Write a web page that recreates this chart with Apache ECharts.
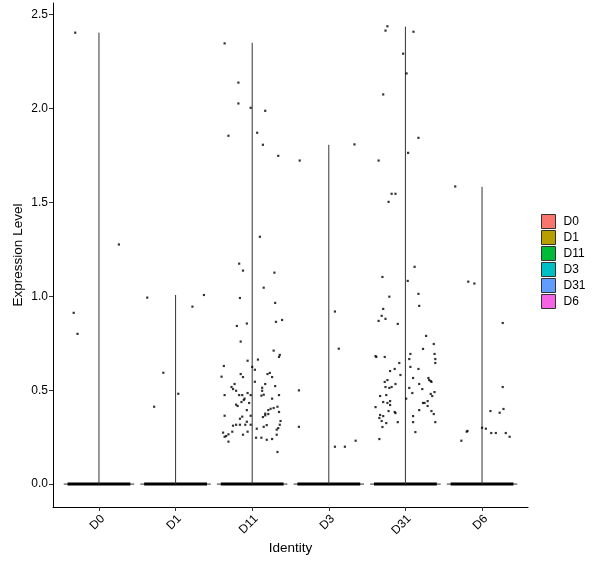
<!DOCTYPE html>
<html>
<head>
<meta charset="utf-8">
<script src="https://cdn.jsdelivr.net/npm/echarts@6/dist/echarts.min.js"></script>
<style>
  html, body { margin: 0; padding: 0; background: #fff; }
  #main { width: 600px; height: 568px; }
</style>
</head>
<body>
<div id="main"></div>
<script>
// groups and their colours
var categories = ['D0', 'D1', 'D11', 'D3', 'D31', 'D6'];
var colors = ['#F8766D', '#B79F00', '#00BA38', '#00BFC4', '#619CFF', '#F564E3'];
// top of each violin (max expression)
var violinMax = [2.404, 1.007, 2.35, 1.807, 2.436, 1.583];
var yTicks = [0, 0.5, 1.0, 1.5, 2.0, 2.5];

// jittered non-zero cells: [jitter offset, expression]
var ptsD0 = [[-0.31, 2.404], [0.26, 1.276], [-0.33, 0.912], [-0.28, 0.80]];
var ptsD1 = [[-0.37, 0.993], [0.37, 1.007], [0.22, 0.945], [-0.16, 0.593], [-0.28, 0.412], [0.035, 0.481]];
var ptsD11 = [
  [-0.36, 2.347], [-0.18, 2.138], [-0.18, 2.027], [-0.02, 2.004], [0.17, 1.988], [-0.31, 1.855],
  [0.065, 1.871], [0.14, 1.807], [0.34, 1.748], [0.10, 1.317], [-0.17, 1.174], [-0.12, 1.137],
  [0.29, 1.126], [0.15, 1.046], [-0.16, 0.991], [0.30, 0.965], [-0.20, 0.842], [-0.07, 0.855],
  [0.31, 0.864], [0.39, 0.874], [-0.15, 0.759], [0.28, 0.711], [0.36, 0.688], [0.35, 0.677],
  [-0.06, 0.657], [0.075, 0.663], [-0.37, 0.629], [0.0, 0.624], [0.035, 0.609], [-0.40, 0.572],
  [-0.15, 0.586], [-0.12, 0.570], [0.20, 0.586], [0.23, 0.592], [0.26, 0.570], [0.035, 0.545],
  [-0.23, 0.533], [-0.27, 0.517], [-0.25, 0.506], [0.17, 0.533], [0.30, 0.522], [-0.21, 0.497],
  [0.13, 0.513], [0.13, 0.497], [-0.36, 0.474], [-0.17, 0.474], [-0.13, 0.474], [-0.06, 0.485],
  [-0.02, 0.474], [0.12, 0.471], [0.15, 0.476], [0.35, 0.474], [0.26, 0.455], [-0.10, 0.455],
  [-0.11, 0.448], [-0.14, 0.437], [-0.04, 0.432], [-0.21, 0.423], [-0.19, 0.416], [-0.07, 0.394],
  [0.33, 0.412], [0.28, 0.405], [0.24, 0.401], [0.21, 0.394], [0.35, 0.384], [0.17, 0.375],
  [0.21, 0.373], [0.17, 0.366], [-0.36, 0.364], [-0.13, 0.359], [-0.02, 0.364], [0.14, 0.357],
  [-0.16, 0.348], [0.37, 0.336], [-0.07, 0.332], [-0.21, 0.316], [-0.16, 0.316], [-0.09, 0.316],
  [-0.02, 0.316], [-0.25, 0.311], [0.19, 0.314], [0.36, 0.316], [0.15, 0.305], [0.34, 0.298],
  [0.06, 0.295], [0.32, 0.290], [-0.26, 0.279], [-0.38, 0.274], [-0.06, 0.279], [-0.31, 0.265],
  [-0.12, 0.263], [0.32, 0.263], [-0.34, 0.256], [-0.36, 0.252], [0.05, 0.247], [0.12, 0.247],
  [0.19, 0.236], [0.26, 0.240], [-0.31, 0.226], [0.33, 0.171]
];
var ptsD3 = [[-0.38, 1.723], [0.335, 1.809], [0.08, 0.919], [0.13, 0.721], [0.08, 0.199], [0.21, 0.199],
  [0.35, 0.231], [-0.39, 0.499], [-0.39, 0.305]];
var ptsD31 = [
  [-0.235, 2.438], [-0.26, 2.415], [0.105, 2.409], [-0.03, 2.292], [0.015, 2.187], [-0.29, 2.075],
  [0.17, 1.844], [0.035, 1.764], [-0.35, 1.723], [-0.18, 1.546], [-0.13, 1.546], [-0.22, 1.503],
  [0.12, 1.157], [-0.30, 1.103], [0.03, 1.082], [0.17, 1.013], [-0.21, 0.998], [0.18, 0.949],
  [-0.29, 0.933], [-0.31, 0.896], [-0.26, 0.880], [-0.35, 0.869], [-0.10, 0.853], [0.27, 0.789],
  [0.37, 0.746], [0.23, 0.720], [0.065, 0.693], [0.38, 0.693], [-0.39, 0.682], [-0.38, 0.677],
  [-0.27, 0.677], [0.05, 0.666], [0.39, 0.666], [0.39, 0.645], [-0.08, 0.645], [0.065, 0.624],
  [-0.14, 0.613], [0.17, 0.613], [-0.20, 0.602], [-0.065, 0.581], [0.10, 0.565], [0.30, 0.565],
  [-0.235, 0.554], [0.31, 0.554], [0.33, 0.549], [-0.27, 0.544], [0.34, 0.544], [-0.13, 0.533],
  [0.18, 0.533], [-0.26, 0.517], [-0.18, 0.517], [-0.21, 0.512], [0.05, 0.512], [0.22, 0.506],
  [0.38, 0.490], [0.09, 0.485], [0.33, 0.480], [-0.33, 0.469], [-0.25, 0.474], [0.35, 0.469],
  [0.01, 0.455], [-0.29, 0.437], [-0.20, 0.442], [-0.235, 0.432], [-0.20, 0.421], [0.23, 0.432],
  [0.25, 0.432], [0.29, 0.442], [0.29, 0.416], [-0.39, 0.410], [0.18, 0.394], [-0.22, 0.389],
  [-0.14, 0.384], [-0.13, 0.378], [0.34, 0.389], [0.37, 0.373], [-0.33, 0.368], [-0.29, 0.362],
  [0.10, 0.362], [-0.34, 0.352], [-0.31, 0.336], [-0.25, 0.325], [-0.10, 0.330], [0.10, 0.330],
  [0.39, 0.330], [-0.30, 0.304], [0.13, 0.277], [-0.34, 0.240]
];
var ptsD6 = [[-0.35, 1.585], [-0.18, 1.078], [-0.10, 1.068], [0.27, 0.858], [0.27, 0.517], [0.11, 0.389],
  [0.23, 0.38], [0.28, 0.40], [-0.27, 0.231], [-0.20, 0.279], [-0.19, 0.283], [0.0, 0.30], [0.05, 0.295],
  [0.12, 0.272], [0.18, 0.272], [0.31, 0.272], [0.36, 0.252]];

var groupPoints = [ptsD0, ptsD1, ptsD11, ptsD3, ptsD31, ptsD6];

var myChart = echarts.init(document.getElementById('main'), null, { renderer: 'canvas' });

var pointData = [];
groupPoints.forEach(function (pts, i) {
  pts.forEach(function (p) { pointData.push([i + p[0], p[1]]); });
});

var tickPos = categories.map(function (c, i) { return i; });
// rotated labels sit a little right of their tick, as ggplot does with hjust
var labelPos = tickPos.map(function (i) { return i + 0.05; });

// violin outline: base at zero, spike up to max
function renderViolin(params, api) {
  var i = api.value(0), m = api.value(1);
  var top = api.coord([i, m]), base = api.coord([i, 0]);
  var l = api.coord([i - 0.46, 0]), r = api.coord([i + 0.46, 0]);
  var l2 = api.coord([i - 0.41, 0]), r2 = api.coord([i + 0.41, 0]);
  return {
    type: 'group',
    children: [
      { type: 'line', shape: { x1: l[0], y1: l[1], x2: r[0], y2: r[1] }, style: { stroke: '#333', lineWidth: 1 } },
      { type: 'line', shape: { x1: l2[0], y1: l2[1], x2: r2[0], y2: r2[1] }, style: { stroke: '#000', lineWidth: 3 } },
      { type: 'line', shape: { x1: base[0], y1: base[1], x2: top[0], y2: top[1] }, style: { stroke: '#333', lineWidth: 1 } }
    ]
  };
}

var series = categories.map(function (name, i) {
  return {
    name: name,
    type: 'custom',
    renderItem: renderViolin,
    itemStyle: { color: colors[i] },
    data: [[i, violinMax[i]]],
    z: 2
  };
});
series.push({
  type: 'scatter',
  symbol: 'rect',
  symbolSize: 2.2,
  itemStyle: { color: '#000' },
  data: pointData,
  silent: true,
  z: 3
});

var option = {
  animation: false,
  textStyle: { fontFamily: 'Liberation Sans, Arial, sans-serif' },
  grid: { left: 53, right: 72, top: 3, bottom: 61 },
  legend: {
    orient: 'vertical',
    left: 541,
    top: 214,
    padding: 0,
    icon: 'rect',
    itemWidth: 14,
    itemHeight: 14,
    itemGap: 1,
    itemStyle: { borderColor: '#333', borderWidth: 1 },
    textStyle: { fontSize: 12, color: '#000', padding: [0, 0, 0, 3] },
    selectedMode: false,
    data: categories.map(function (name, i) {
      return { name: name, itemStyle: { color: colors[i] } };
    })
  },
  xAxis: {
    type: 'value',
    min: -0.6,
    max: 5.6,
    name: 'Identity',
    nameLocation: 'middle',
    nameGap: 34,
    nameMoveOverlap: false,
    nameTextStyle: { fontSize: 13.5, color: '#000' },
    splitLine: { show: false },
    axisLine: { show: true, onZero: false, lineStyle: { color: '#000', width: 1 } },
    axisTick: { show: true, length: 4, lineStyle: { color: '#333' }, customValues: tickPos },
    axisLabel: {
      customValues: labelPos,
      rotate: 45,
      margin: 10,
      fontSize: 12,
      color: '#000',
      formatter: function (v) { return categories[Math.round(v)]; }
    }
  },
  yAxis: {
    type: 'value',
    min: -0.122,
    max: 2.562,
    name: 'Expression Level',
    nameLocation: 'middle',
    nameGap: 28,
    nameMoveOverlap: false,
    nameTextStyle: { fontSize: 13.5, color: '#000' },
    splitLine: { show: false },
    axisLine: { show: true, onZero: false, lineStyle: { color: '#000', width: 1 } },
    axisTick: { show: true, length: 4, lineStyle: { color: '#333' }, customValues: yTicks },
    axisLabel: {
      customValues: yTicks,
      margin: 5,
      fontSize: 12,
      color: '#000',
      formatter: function (v) { return v.toFixed(1); }
    }
  },
  series: series
};

myChart.setOption(option);
</script>
</body>
</html>
